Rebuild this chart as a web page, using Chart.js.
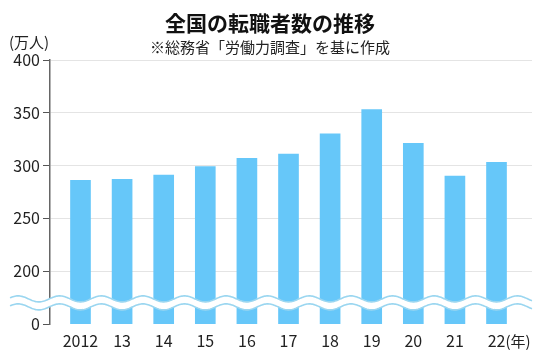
<!DOCTYPE html>
<html>
<head>
<meta charset="utf-8">
<script src="https://cdn.jsdelivr.net/npm/chart.js@4.4.0/dist/chart.umd.min.js"></script>
<style>
  html, body { margin: 0; padding: 0; background: #fff; }
  #wrap { width: 550px; height: 363px; position: relative; }
</style>
</head>
<body>
<div id="wrap"><canvas id="chart"></canvas></div>
<script>
// data
const years = ["2012", "13", "14", "15", "16", "17", "18", "19", "20", "21", "22"];
const changers = [286, 287, 291, 299, 307, 311, 330, 353, 321, 290, 303]; // 万人
const yTicks = [150, 200, 250, 300, 350, 400]; // 150 is shown as 0 (broken axis)

const title = "全国の転職者数の推移";
const subtitle = "※総務省「労働力調査」を基に作成";
const yUnit = "(万人)";
const xUnit = "(年)";

const JP = "'Noto Sans CJK JP', 'Noto Sans', sans-serif";
const barColor = "#66c7f9";
const waveColor = "#9ad6f0";

// titles, unit labels and the wavy axis break
const decorations = {
    id: "decorations",
    afterDatasetsDraw(chart) {
        const {ctx, chartArea, scales: {x, y}} = chart;
        // wavy break across the bars
        const y0 = y.getPixelForValue(170);
        const period = x.getPixelForValue(1) - x.getPixelForValue(0);
        const gap0 = (x.getPixelForValue(0) + x.getPixelForValue(1)) / 2;
        const amp = 3;
        const wy = (px, off) => y0 + off - amp * Math.cos(2 * Math.PI * (px - gap0) / period);
        const left = 10, right = chartArea.right;
        ctx.save();
        ctx.beginPath();
        for (let px = left; px <= right; px++) {
            px === left ? ctx.moveTo(px, wy(px, -4)) : ctx.lineTo(px, wy(px, -4));
        }
        for (let px = right; px >= left; px--) ctx.lineTo(px, wy(px, 4));
        ctx.closePath();
        ctx.fillStyle = "#fff";
        ctx.fill();
        ctx.strokeStyle = waveColor;
        ctx.lineWidth = 1.6;
        [-4, 4].forEach(off => {
            ctx.beginPath();
            for (let px = left; px <= right; px++) {
                px === left ? ctx.moveTo(px, wy(px, off)) : ctx.lineTo(px, wy(px, off));
            }
            ctx.stroke();
        });

        // texts
        ctx.fillStyle = "#111";
        ctx.textAlign = "center";
        ctx.textBaseline = "middle";
        ctx.font = "bold 21px " + JP;
        ctx.fillText(title, 270, 23);
        ctx.font = "15px " + JP;
        ctx.fillStyle = "#222";
        ctx.fillText(subtitle, 270, 47);
        ctx.textAlign = "left";
        ctx.fillText(yUnit, 9, 42);
        const lastX = x.getPixelForValue(years.length - 1);
        ctx.fillText(xUnit, lastX + 9, 341);
        ctx.restore();
    }
};

new Chart(document.getElementById("chart"), {
    type: "bar",
    data: {
        datasets: [{
            data: changers.map((v, i) => ({x: i, y: v})),
            backgroundColor: barColor,
            barThickness: 20,
        }],
    },
    options: {
        responsive: true,
        maintainAspectRatio: false,
        animation: false,
        layout: {padding: {top: 60, right: 18, bottom: 0, left: 0}},
        plugins: {legend: {display: false}, tooltip: {enabled: false}},
        scales: {
            x: {
                type: "linear",
                offset: false,
                min: -0.733,
                max: 10.853,
                afterBuildTicks: (scale) => { scale.ticks = years.map((_, i) => ({value: i})); },
                afterFit: (scale) => { scale.height = 39; },
                grid: {display: false, drawTicks: false},
                border: {display: false},
                ticks: {
                    callback: (v) => years[v],
                    color: "#222",
                    font: {family: JP, size: 16},
                    padding: 7,
                    maxRotation: 0,
                    autoSkip: false,
                },
            },
            y: {
                min: 150,
                max: 400,
                afterBuildTicks: (scale) => { scale.ticks = yTicks.map(v => ({value: v})); },
                afterFit: (scale) => { scale.width = 50; },
                grid: {
                    color: (c) => c.tick && c.tick.value === 150 ? "rgba(0,0,0,0)" : "#e4e4e4",
                    tickColor: "#555",
                    tickLength: 7,
                    lineWidth: 1,
                },
                border: {display: true, color: "#666", width: 1.5},
                ticks: {
                    callback: (v) => v === 150 ? "0" : String(v),
                    color: "#222",
                    font: {family: JP, size: 16},
                    padding: 3,
                },
            },
        },
    },
    plugins: [decorations],
});
</script>
</body>
</html>
